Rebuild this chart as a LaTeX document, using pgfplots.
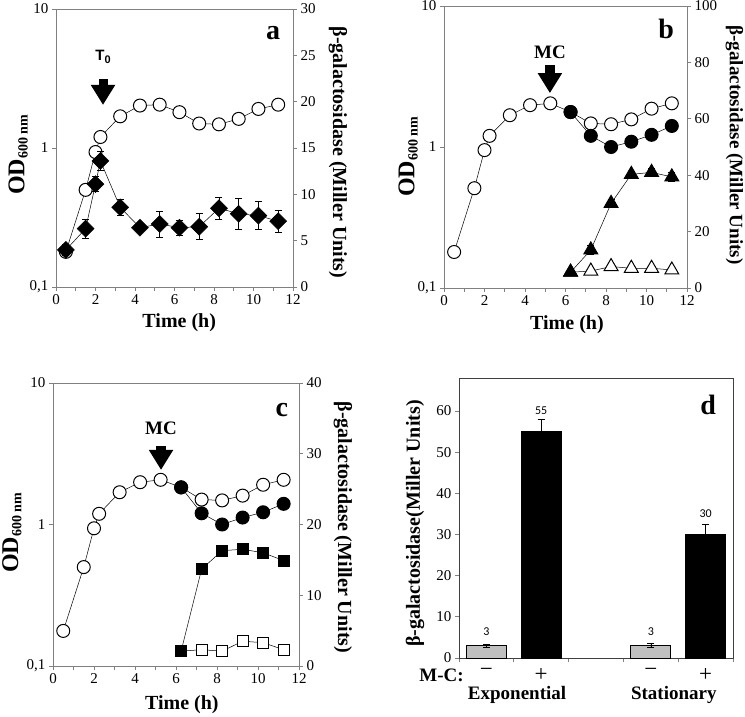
\documentclass[border=0pt]{standalone}
\usepackage{fontspec}
\setmainfont{Liberation Serif}
\newfontfamily\arialf{Liberation Sans}
\newfontfamily\calib{Carlito}
\usepackage{pgfplots}
\pgfplotsset{compat=1.18}
\usetikzlibrary{arrows.meta}

\newcommand{\fs}[1]{\fontsize{#1bp}{#1bp}\selectfont}
\newcommand{\lf}{\rmfamily\bfseries\fs{20}}
\newcommand{\odlabel}{\fs{24}OD\raisebox{-0.3ex}{\fs{14}600 nm}}

\pgfplotsset{
  /pgf/number format/assume math mode=true,
  base/.style={
    scale only axis, anchor=south west, clip=false,
    axis line style={-, black!50, line width=0.8bp},
    tick style={black!50, line width=0.8bp},
    tick align=outside, major tick length=4bp, minor tick length=4bp,
    every tick label/.append style={font=\rmfamily\fs{15}},
  },
  growth/.style={
    base, xmin=0, xmax=12, ymin=0.1, ymax=10,
    xtick={0,2,...,12}, minor xtick={1,3,...,11},
    ytick={0.1,1,10}, yticklabels={{0,1},1,10}, yminorticks=false,
    tick pos=left, xlabel={Time (h)}, ylabel={\odlabel},
  },
  enzyme/.style={
    base, xmin=0, xmax=12, axis x line=none, axis y line*=right,
    ylabel={β-galactosidase (Miller Units)},
  },
  ln/.style={black, line width=0.5bp},
  oc/.style={ln, mark=*, mark size=6.5bp, mark options={fill=white, draw=black, line width=1bp}},
  fc/.style={ln, mark=*, mark size=6.5bp, mark options={fill=black, draw=black, line width=1bp}},
  eb/.style={error bars/y dir=both, error bars/y explicit,
    error bars/error bar style={black, line width=0.6bp},
    error bars/error mark options={rotate=90, mark size=3.5bp, black, line width=0.6bp}},
}

\begin{document}
\begin{tikzpicture}
\useasboundingbox (0,0) rectangle (745bp,717bp);

% ---------- panel a ----------
\begin{axis}[ymode=log, growth, at={(56bp,430bp)}, width=237bp, height=278bp,
  every axis x label/.style={at={(axis description cs:0.52,-0.13)}, anchor=center, font=\lf},
  every axis y label/.style={at={(axis description cs:-0.16,0.475)}, rotate=90, anchor=center, font=\lf}]
\addplot[oc] coordinates {(0.5,0.179) (1.5,0.50) (2,0.935) (2.25,1.2) (3.25,1.69) (4.25,2.02)
  (5.25,2.05) (6.25,1.81) (7.25,1.50) (8.25,1.48) (9.25,1.62) (10.25,1.91) (11.25,2.05)};
\draw[line width=9bp, -{Triangle[length=20bp, width=23bp]}] (axis cs:2.38,3.13) -- (axis cs:2.38,2.04);
\node[font=\arialf\bfseries\fs{15}] at (axis cs:2.38,4.5) {T\raisebox{-0.35ex}{\fs{11}0}};
\node[font=\bfseries\fs{28}] at (axis description cs:0.916,0.914) {a};
\end{axis}
\begin{axis}[enzyme, at={(56bp,430bp)}, width=237bp, height=278bp,
  ymin=0, ymax=30, ytick={0,5,...,30},
  every axis y label/.style={at={(axis description cs:1.19,0.484)}, rotate=-90, anchor=center, font=\lf}]
\addplot[ln, mark=square*, mark size=6bp, mark options={rotate=45, fill=black, draw=black}, eb]
  coordinates {(0.5,4.0) +- (0,0.6) (1.5,6.3) +- (0,1.0) (2,11.1) +- (0,0.8) (2.25,13.6) +- (0,1.0)
  (3.25,8.6) +- (0,0.9) (4.25,6.4) +- (0,0.4) (5.25,6.8) +- (0,1.4) (6.25,6.4) +- (0,0.8)
  (7.25,6.5) +- (0,1.4) (8.25,8.5) +- (0,1.2) (9.25,7.9) +- (0,1.7) (10.25,7.7) +- (0,1.5)
  (11.25,7.1) +- (0,1.2)};
\end{axis}

% ---------- panel b ----------
\begin{axis}[ymode=log, growth, at={(444bp,429bp)}, width=243bp, height=282bp,
  every axis x label/.style={at={(axis description cs:0.506,-0.131)}, anchor=center, font=\lf},
  every axis y label/.style={at={(axis description cs:-0.148,0.465)}, rotate=90, anchor=center, font=\lf}]
\addplot[oc] coordinates {(0.5,0.18) (1.5,0.51) (2,0.95) (2.25,1.2) (3.25,1.68) (4.25,1.98)
  (5.25,2.04) (6.25,1.77) (7.25,1.47) (8.25,1.45) (9.25,1.57) (10.25,1.87) (11.25,2.04)};
\addplot[fc] coordinates {(6.25,1.77) (7.25,1.2) (8.25,1.0) (9.25,1.09) (10.25,1.22) (11.25,1.41)};
\draw[line width=10bp, -{Triangle[length=20bp, width=23bp]}] (axis cs:5.23,3.82) -- (axis cs:5.23,2.41);
\node[font=\bfseries\fs{19}] at (axis cs:5.23,4.72) {MC};
\node[font=\bfseries\fs{28}] at (axis description cs:0.914,0.92) {b};
\end{axis}
\begin{axis}[enzyme, at={(444bp,429bp)}, width=243bp, height=282bp,
  ymin=0, ymax=100, ytick={0,20,...,100},
  every axis y label/.style={at={(axis description cs:1.195,0.507)}, rotate=-90, anchor=center, font=\rmfamily\bfseries\fs{19}}]
\addplot[ln, mark=triangle*, mark size=8bp, mark options={fill=white, draw=black, line width=1bp}]
  coordinates {(6.25,5.6) (7.25,6.0) (8.25,7.6) (9.25,7.0) (10.25,7.0) (11.25,6.4)};
\addplot[ln, mark=triangle*, mark size=8bp, mark options={fill=black, draw=black, line width=1bp}, eb]
  coordinates {(6.25,5.6) +- (0,0.5) (7.25,13.5) +- (0,1.5) (8.25,30) +- (0,1.5) (9.25,40.3) +- (0,1)
  (10.25,41) +- (0,1.5) (11.25,39.4) +- (0,1.5)};
\end{axis}

% ---------- panel c ----------
\begin{axis}[ymode=log, growth, at={(53bp,51bp)}, width=246bp, height=283bp,
  every axis x label/.style={at={(axis description cs:0.524,-0.138)}, anchor=center, font=\lf},
  every axis y label/.style={at={(axis description cs:-0.167,0.47)}, rotate=90, anchor=center, font=\lf}]
\addplot[oc] coordinates {(0.5,0.177) (1.5,0.50) (2,0.94) (2.25,1.19) (3.25,1.69) (4.25,1.99)
  (5.25,2.07) (6.25,1.83) (7.25,1.5) (8.25,1.48) (9.25,1.6) (10.25,1.91) (11.25,2.07)};
\addplot[fc] coordinates {(6.25,1.83) (7.25,1.2) (8.25,1.0) (9.25,1.12) (10.25,1.22) (11.25,1.4)};
\draw[line width=10bp, -{Triangle[length=20bp, width=23bp]}] (axis cs:5.27,3.59) -- (axis cs:5.27,2.43);
\node[font=\bfseries\fs{19}] at (axis cs:5.27,4.8) {MC};
\node[font=\bfseries\fs{28}] at (axis description cs:0.93,0.905) {c};
\end{axis}
\begin{axis}[enzyme, at={(53bp,51bp)}, width=246bp, height=283bp,
  ymin=0, ymax=40, ytick={0,10,...,40},
  every axis y label/.style={at={(axis description cs:1.179,0.49)}, rotate=-90, anchor=center, font=\lf}]
\addplot[ln, mark=square*, mark size=5.5bp, mark options={fill=white, draw=black, line width=1bp}]
  coordinates {(6.25,2.1) (7.25,2.3) (8.25,2.1) (9.25,3.5) (10.25,3.3) (11.25,2.3)};
\addplot[ln, mark=square*, mark size=5.5bp, mark options={fill=black, draw=black, line width=1bp}]
  coordinates {(6.25,2.1) (7.25,13.7) (8.25,16.3) (9.25,16.5) (10.25,16.0) (11.25,14.9)};
\end{axis}

% ---------- panel d ----------
\begin{axis}[base, at={(459bp,59bp)}, width=274bp, height=280bp,
  axis line style={-, black!75}, tick pos=left,
  xmin=0.5, xmax=5.5, ymin=0, ymax=68, ytick={0,10,...,60},
  xtick={1,2,4,5}, xticklabels={−,+,−,+}, major x tick style={draw=none},
  minor xtick={0.5,1.5,...,5.5},
  xticklabel style={font=\rmfamily\fs{23}, yshift=-3bp},
  ylabel={β-galactosidase(Miller Units)},
  every axis y label/.style={at={(axis description cs:-0.16,0.48)}, rotate=90, anchor=center, font=\lf}]
\addplot[ybar, bar width=0.73, fill=black!25, draw=black, line width=0.8bp, eb,
  nodes near coords, every node near coord/.append style={font=\calib\fs{12}, anchor=south, yshift=6bp}]
  coordinates {(1,3) +- (0,0.3) (4,3) +- (0,0.5)};
\addplot[ybar, bar width=0.73, fill=black, draw=black, line width=0.8bp, eb,
  nodes near coords, every node near coord/.append style={font=\calib\fs{12}, anchor=south, yshift=13bp}]
  coordinates {(2,55) +- (0,3) (5,30) +- (0,2.4)};
\node[font=\bfseries\fs{28}] at (axis description cs:0.909,0.904) {d};
\node[font=\bfseries\fs{19}, anchor=center] at (axis cs:0.18,0) [yshift=-17bp] {M-C:};
\node[font=\bfseries\fs{19}] at (axis cs:1.56,0) [yshift=-37bp] {Exponential};
\node[font=\bfseries\fs{19}] at (axis cs:4.42,0) [yshift=-37bp] {Stationary};
\end{axis}
\end{tikzpicture}
\end{document}
